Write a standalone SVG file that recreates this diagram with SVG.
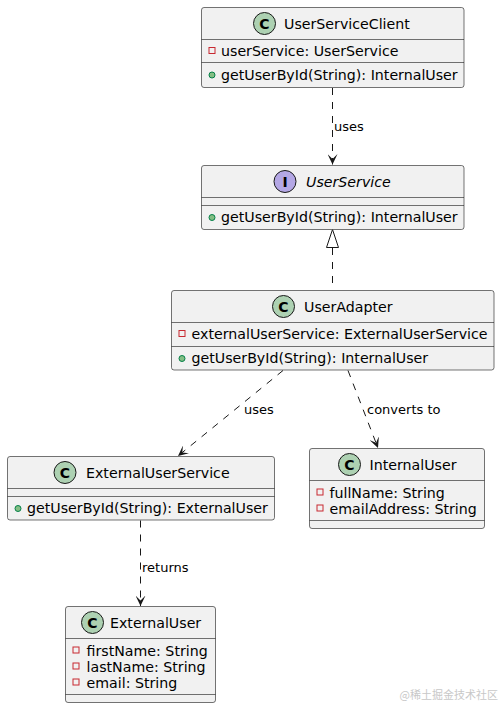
<svg xmlns="http://www.w3.org/2000/svg" width="500" height="708" viewBox="0 0 500 708">
<style>
.box{fill:#F1F1F1;stroke:#181818;stroke-width:0.6}
.sep{stroke:#181818;stroke-width:0.6}
.cls{fill:#ADD1B2;stroke:#181818;stroke-width:1}
.ifc{fill:#B4A7E5;stroke:#181818;stroke-width:1}
.glyph{font-family:"DejaVu Sans",sans-serif;font-size:14px;font-weight:bold;fill:#000;text-anchor:middle}
.t{font-family:"DejaVu Sans",sans-serif;font-size:14.2px;fill:#000}
.it{font-style:italic}
.lbl{font-family:"DejaVu Sans",sans-serif;font-size:13px;fill:#000}
.priv{fill:none;stroke:#C82930;stroke-width:1}
.pub{fill:#84BE84;stroke:#038048;stroke-width:1}
.dash{fill:none;stroke:#181818;stroke-width:1;stroke-dasharray:7,7}
.wm{font-family:"Noto Sans CJK SC",sans-serif;font-size:11px;fill:#C8C8C8;text-anchor:end}
</style>
<defs>
<marker id="arr" viewBox="0 0 11 10" refX="10.5" refY="5" markerWidth="11" markerHeight="10" markerUnits="userSpaceOnUse" orient="auto">
<path d="M10.5,5 L0,0 L5,5 L0,10 Z" fill="#181818"/>
</marker>
</defs>
<rect width="500" height="708" fill="#FFFFFF"/>

<g id="connectors">
<line class="dash" x1="332.5" y1="88" x2="332.5" y2="164.5" marker-end="url(#arr)"/>
<line class="dash" x1="332.5" y1="248" x2="332.5" y2="290"/>
<polygon points="332.5,229.5 326.5,247.5 338.5,247.5" fill="none" stroke="#181818" stroke-width="1"/>
<line class="dash" x1="283" y1="370.5" x2="178" y2="456" marker-end="url(#arr)"/>
<line class="dash" x1="348" y1="370.5" x2="378" y2="448" marker-end="url(#arr)"/>
<line class="dash" x1="140.5" y1="520.5" x2="140.5" y2="606" marker-end="url(#arr)"/>
<text class="lbl" x="334" y="131">uses</text>
<text class="lbl" x="244" y="414">uses</text>
<text class="lbl" x="367" y="414">converts to</text>
<text class="lbl" x="142" y="572">returns</text>
</g>

<g id="UserServiceClient">
<rect class="box" x="201.5" y="7.5" width="262.5" height="80" rx="2.5"/>
<circle class="cls" cx="264.5" cy="23.5" r="11"/>
<text class="glyph" x="264.5" y="28.5">C</text>
<text class="t" x="284" y="28.5">UserServiceClient</text>
<line class="sep" x1="201.5" y1="39.5" x2="464" y2="39.5"/>
<rect class="priv" x="209" y="47.5" width="6" height="6"/>
<text class="t" x="221" y="56">userService: UserService</text>
<line class="sep" x1="201.5" y1="62.5" x2="464" y2="62.5"/>
<circle class="pub" cx="212" cy="75" r="3"/>
<text class="t" x="221" y="79.5">getUserById(String): InternalUser</text>
</g>

<g id="UserService">
<rect class="box" x="201.5" y="165.5" width="262.5" height="64" rx="2.5"/>
<circle class="ifc" cx="285" cy="181.5" r="11"/>
<text class="glyph" x="285" y="186.5">I</text>
<text class="t it" x="306" y="186.5">UserService</text>
<line class="sep" x1="201.5" y1="197.5" x2="464" y2="197.5"/>
<line class="sep" x1="201.5" y1="205.5" x2="464" y2="205.5"/>
<circle class="pub" cx="212" cy="217.5" r="3"/>
<text class="t" x="221" y="222">getUserById(String): InternalUser</text>
</g>

<g id="UserAdapter">
<rect class="box" x="171.5" y="290.5" width="322.5" height="79.5" rx="2.5"/>
<circle class="cls" cx="283.5" cy="306.5" r="11"/>
<text class="glyph" x="283.5" y="311.5">C</text>
<text class="t" x="304" y="311.5">UserAdapter</text>
<line class="sep" x1="171.5" y1="322.5" x2="494" y2="322.5"/>
<rect class="priv" x="179" y="330.5" width="6" height="6"/>
<text class="t" x="191.5" y="339">externalUserService: ExternalUserService</text>
<line class="sep" x1="171.5" y1="346.5" x2="494" y2="346.5"/>
<circle class="pub" cx="182" cy="358.5" r="3"/>
<text class="t" x="191.5" y="363">getUserById(String): InternalUser</text>
</g>

<g id="ExternalUserService">
<rect class="box" x="7.5" y="456.5" width="267" height="63.5" rx="2.5"/>
<circle class="cls" cx="65" cy="472.5" r="11"/>
<text class="glyph" x="65" y="477.5">C</text>
<text class="t" x="86" y="477.5">ExternalUserService</text>
<line class="sep" x1="7.5" y1="488.5" x2="274.5" y2="488.5"/>
<line class="sep" x1="7.5" y1="496.5" x2="274.5" y2="496.5"/>
<circle class="pub" cx="18" cy="508.5" r="3"/>
<text class="t" x="27" y="513">getUserById(String): ExternalUser</text>
</g>

<g id="InternalUser">
<rect class="box" x="309.5" y="448.5" width="175" height="80" rx="2.5"/>
<circle class="cls" cx="349.5" cy="464.5" r="11"/>
<text class="glyph" x="349.5" y="469.5">C</text>
<text class="t" x="369.5" y="469.5">InternalUser</text>
<line class="sep" x1="309.5" y1="480.5" x2="484.5" y2="480.5"/>
<rect class="priv" x="317" y="489" width="6" height="6"/>
<text class="t" x="329.5" y="497.5">fullName: String</text>
<rect class="priv" x="317" y="505" width="6" height="6"/>
<text class="t" x="329.5" y="513.5">emailAddress: String</text>
<line class="sep" x1="309.5" y1="520.5" x2="484.5" y2="520.5"/>
</g>

<g id="ExternalUser">
<rect class="box" x="65.5" y="606.5" width="150" height="96" rx="2.5"/>
<circle class="cls" cx="92.5" cy="622.5" r="11"/>
<text class="glyph" x="92.5" y="627.5">C</text>
<text class="t" x="110" y="627.5">ExternalUser</text>
<line class="sep" x1="65.5" y1="638.5" x2="215.5" y2="638.5"/>
<rect class="priv" x="73" y="647" width="6" height="6"/>
<text class="t" x="86.5" y="655.5">firstName: String</text>
<rect class="priv" x="73" y="663" width="6" height="6"/>
<text class="t" x="86.5" y="671.5">lastName: String</text>
<rect class="priv" x="73" y="679" width="6" height="6"/>
<text class="t" x="86.5" y="687.5">email: String</text>
<line class="sep" x1="65.5" y1="694.5" x2="215.5" y2="694.5"/>
</g>

<text class="wm" x="498" y="699">@稀土掘金技术社区</text>
</svg>
